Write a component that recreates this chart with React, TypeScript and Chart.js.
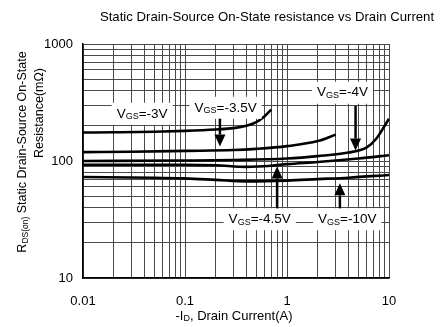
import React, { useEffect, useRef } from "react";
import { Chart, registerables } from "chart.js";
Chart.register(...registerables);

// Drain current (A) and on-resistance (mΩ) for each gate voltage curve
const vgs3I = [0.01, 0.02, 0.05, 0.1, 0.2, 0.3, 0.4, 0.5, 0.6, 0.7];
const vgs3R = [175, 176, 178, 181, 186, 191, 200, 215, 240, 275];
const vgs35I = [0.01, 0.03, 0.1, 0.3, 0.5, 1, 2, 3];
const vgs35R = [119, 120, 122, 124, 127, 134, 148, 168];
const vgs4I = [0.01, 0.1, 0.3, 1, 2, 4, 6, 7.5, 10];
const vgs4R = [100, 101, 102, 105, 110, 118, 130, 155, 230];
const vgs45I = [0.01, 0.1, 0.2, 0.4, 0.7, 1, 2, 5, 10];
const vgs45R = [93, 93, 92, 89, 91, 94, 98, 105, 112];
const vgs10I = [0.01, 0.05, 0.1, 0.2, 0.4, 1, 2, 4, 10];
const vgs10R = [73, 72, 71, 69, 67, 68, 70, 72, 76];

// Annotation labels (value after "VGS=") and arrows, in data units
const labelTexts = ["-3V", "-3.5V", "-4V", "-4.5V", "-10V"];
const labelI = [0.038, 0.25, 3.5, 0.54, 3.9];
const labelR = [253, 285, 383, 31.8, 31.8];
const arrowI = [null, 0.22, 4.7, 0.8, 3.3];
const arrowFromR = [null, 230, 297, 39.4, 39.4];
const arrowToR = [null, 133, 123, 89.8, 64.4];

const xTickValues = [0.01, 0.1, 1, 10];
const yTickValues = [10, 100, 1000];

const titleText = "Static Drain-Source On-State resistance vs Drain Current";
const FONT = "Arial, 'Liberation Sans', sans-serif";

type Part = { t: string; sub?: boolean };

function drawRich(ctx: CanvasRenderingContext2D, parts: Part[], x: number, y: number, size: number, subSize: number) {
  let total = 0;
  const widths = parts.map((p) => {
    ctx.font = `${p.sub ? subSize : size}px ${FONT}`;
    const w = ctx.measureText(p.t).width;
    total += w;
    return w;
  });
  let cx = x - total / 2;
  ctx.textAlign = "left";
  ctx.textBaseline = "middle";
  parts.forEach((p, i) => {
    ctx.font = `${p.sub ? subSize : size}px ${FONT}`;
    ctx.fillText(p.t, cx, p.sub ? y + size * 0.22 : y);
    cx += widths[i];
  });
  return total;
}

function decadeTicks(min: number, max: number) {
  const out: number[] = [];
  for (let e = Math.log10(min); e < Math.log10(max); e++) {
    for (let m = 1; m < 10; m++) out.push(m * Math.pow(10, e));
  }
  out.push(max);
  return out.map((v) => parseFloat(v.toPrecision(6)));
}

const decorPlugin = {
  id: "decor",
  afterDraw(chart: any) {
    const ctx: CanvasRenderingContext2D = chart.ctx;
    const xs = chart.scales.x;
    const ys = chart.scales.y;
    ctx.save();
    ctx.fillStyle = "#000";
    // title
    ctx.font = `13.2px ${FONT}`;
    ctx.textAlign = "center";
    ctx.textBaseline = "middle";
    ctx.fillText(titleText, 267, 17);

    // y title
    ctx.save();
    ctx.translate(23, 152);
    ctx.rotate(-Math.PI / 2);
    drawRich(ctx, [{ t: "R" }, { t: "DS(on)", sub: true }, { t: " Static Drain-Source On-State" }], 0, 0, 12.5, 8.5);
    ctx.restore();
    ctx.save();
    ctx.translate(40, 113);
    ctx.rotate(-Math.PI / 2);
    drawRich(ctx, [{ t: "Resistance(mΩ)" }], 0, 0, 12.5, 8.5);
    ctx.restore();

    // x title
    drawRich(ctx, [{ t: "-I" }, { t: "D", sub: true }, { t: ", Drain Current(A)" }], (xs.left + xs.right) / 2 - 2, 316, 13, 9);

    // annotations
    labelTexts.forEach((lt, i) => {
      const px = xs.getPixelForValue(labelI[i]);
      const py = ys.getPixelForValue(labelR[i]);
      const parts: Part[] = [{ t: "V" }, { t: "GS", sub: true }, { t: "=" + lt }];
      let total = 0;
      parts.forEach((p) => {
        ctx.font = `${p.sub ? 9 : 13.5}px ${FONT}`;
        total += ctx.measureText(p.t).width;
      });
      ctx.fillStyle = "#fff";
      ctx.fillRect(px - total / 2 - 5, py - 11, total + 10, 22);
      ctx.fillStyle = "#000";
      drawRich(ctx, parts, px, py, 13.5, 9);

      const ai = arrowI[i];
      if (ai != null) {
        const ax = xs.getPixelForValue(ai);
        const y0 = ys.getPixelForValue(arrowFromR[i] as number);
        const y1 = ys.getPixelForValue(arrowToR[i] as number);
        const dir = y1 > y0 ? 1 : -1;
        const head = 12;
        ctx.strokeStyle = "#000";
        ctx.lineWidth = 2.5;
        ctx.beginPath();
        ctx.moveTo(ax, y0);
        ctx.lineTo(ax, y1 - dir * head);
        ctx.stroke();
        ctx.beginPath();
        ctx.moveTo(ax, y1);
        ctx.lineTo(ax - 5.5, y1 - dir * head);
        ctx.lineTo(ax + 5.5, y1 - dir * head);
        ctx.closePath();
        ctx.fill();
      }
    });
    ctx.restore();
  },
};

function series(xs: number[], ys: number[]) {
  return xs.map((x, i) => ({ x, y: ys[i] }));
}

export default function App() {
  const ref = useRef<HTMLCanvasElement | null>(null);
  useEffect(() => {
    if (!ref.current) return;
    const mk = (label: string, I: number[], R: number[]) => ({
      label,
      data: series(I, R),
      borderColor: "#000",
      borderWidth: 2.6,
      pointRadius: 0,
      fill: false,
      cubicInterpolationMode: "monotone" as const,
    });
    const chart = new Chart(ref.current, {
      type: "line",
      data: {
        datasets: [
          mk("VGS=-3V", vgs3I, vgs3R),
          mk("VGS=-3.5V", vgs35I, vgs35R),
          mk("VGS=-4V", vgs4I, vgs4R),
          mk("VGS=-4.5V", vgs45I, vgs45R),
          mk("VGS=-10V", vgs10I, vgs10R),
        ],
      },
      options: {
        animation: false,
        responsive: false,
        maintainAspectRatio: false,
        layout: { padding: { left: 0, top: 44, right: 54, bottom: 0 } },
        plugins: { legend: { display: false }, tooltip: { enabled: false }, title: { display: false } },
        scales: {
          x: {
            type: "logarithmic",
            min: 0.01,
            max: 10,
            afterBuildTicks: (s: any) => {
              s.ticks = decadeTicks(0.01, 10).map((v) => ({ value: v }));
            },
            afterFit: (s: any) => {
              s.height = 49;
            },
            ticks: {
              autoSkip: false,
              maxRotation: 0,
              padding: 16,
              color: "#000",
              font: { family: FONT, size: 13 },
              callback: (v: any) => {
                const n = Number(v);
                return xTickValues.some((t) => Math.abs(t - n) / t < 1e-6) ? String(n) : "";
              },
            },
            grid: { color: "#4a4a4a", lineWidth: 1, drawTicks: false },
            border: { color: "#000", width: 1.5 },
          },
          y: {
            type: "logarithmic",
            min: 10,
            max: 1000,
            afterBuildTicks: (s: any) => {
              s.ticks = decadeTicks(10, 1000).map((v) => ({ value: v }));
            },
            afterFit: (s: any) => {
              s.width = 83;
            },
            ticks: {
              autoSkip: false,
              padding: 10,
              color: "#000",
              font: { family: FONT, size: 13 },
              callback: (v: any) => {
                const n = Number(v);
                return yTickValues.some((t) => Math.abs(t - n) / t < 1e-6) ? String(n) : "";
              },
            },
            grid: { color: "#4a4a4a", lineWidth: 1, drawTicks: false },
            border: { color: "#000", width: 1.5 },
          },
        },
      },
      plugins: [decorPlugin],
    });
    return () => chart.destroy();
  }, []);
  return (
    <div style={{ position: "fixed", left: 0, top: 0, width: 443, height: 327, background: "#fff" }}>
      <canvas ref={ref} width={443} height={327} style={{ width: 443, height: 327 }} />
    </div>
  );
}
